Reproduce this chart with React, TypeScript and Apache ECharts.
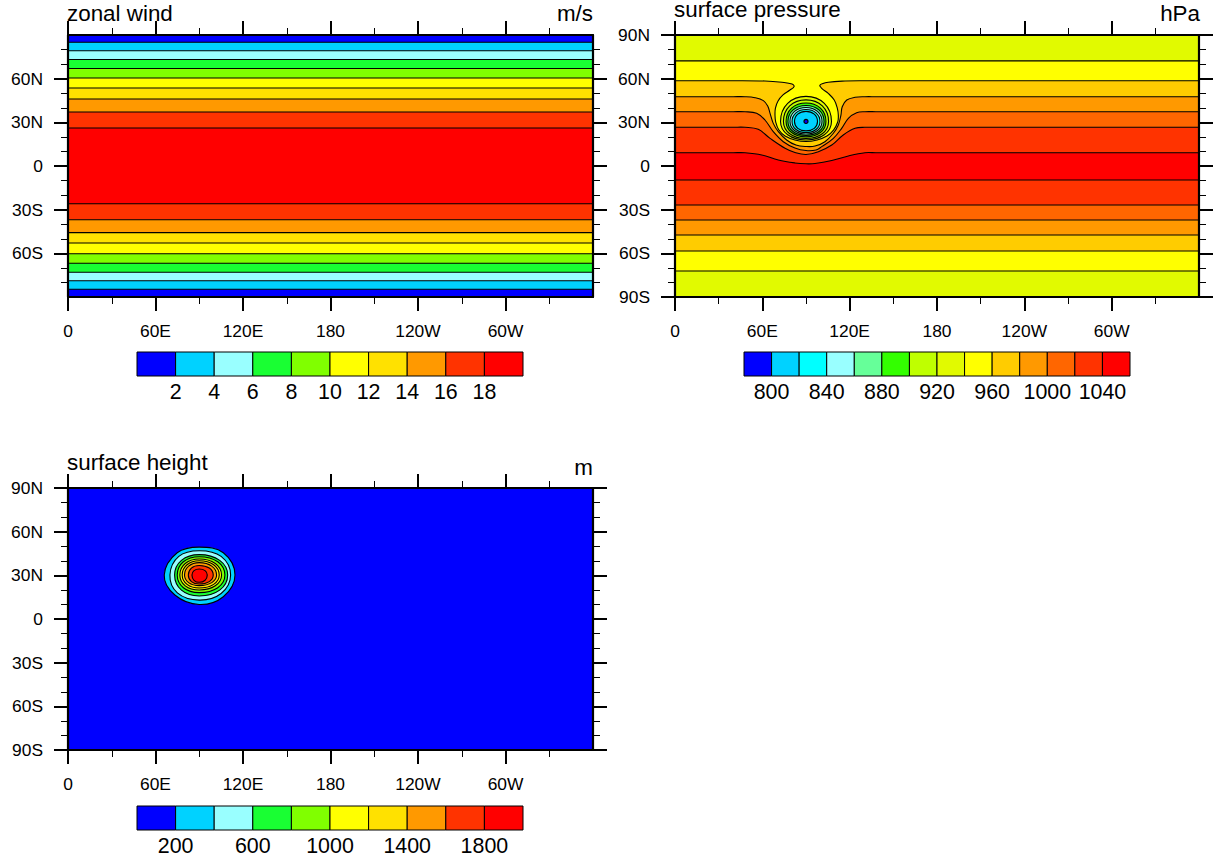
import React, { useEffect, useRef } from "react";
import * as echarts from "echarts";

type Pt = [number, number];
type Shape = { points: Pt[]; smooth: number; fill: string };

const FONT = "'Liberation Sans', Arimo, Helvetica, sans-serif";

// colour tables
const BLUE = "#0000ff";
const tenColors = ["#0000ff", "#00d2ff", "#99ffff", "#19ff33", "#80ff00", "#ffff00", "#ffe100", "#ff9900", "#ff3300", "#ff0000"];
const psColors = ["#0000ff", "#00d2ff", "#00ffff", "#99ffff", "#66ff99", "#33ff00", "#bfff00", "#e1fa00", "#ffff00", "#ffcc00", "#ff9900", "#ff6600", "#ff3300", "#ff0000"];

// axes
const lonTicks = [0, 60, 120, 180, 240, 300];
const lonNames = ["0", "60E", "120E", "180", "120W", "60W"];
const latTicksAll = [-90, -60, -30, 0, 30, 60, 90];
const latNamesAll = ["90S", "60S", "30S", "0", "30N", "60N", "90N"];
const latTicksInner = [-60, -30, 0, 30, 60];

// zonal wind: contour latitudes north to south, and the colour below each
const windLats = [85, 79.2, 73.2, 67, 60.5, 53.6, 46, 37.1, 26.1, -25.9, -36.9, -45.8, -52.9, -60.3, -66.8, -73, -78.8, -84.7];
const windFills = ["#00d2ff", "#99ffff", "#19ff33", "#80ff00", "#ffff00", "#ffe100", "#ff9900", "#ff3300", "#ff0000", "#ff3300", "#ff9900", "#ffe100", "#ffff00", "#80ff00", "#19ff33", "#99ffff", "#00d2ff", "#0000ff"];

// surface pressure contours
const ps960: Pt[] = [[0, 58.6], [30, 58.6], [37.8, 58.6], [61.8, 58.4], [73.5, 57.5], [80.4, 56.3], [81.8, 54.5], [79, 52.2], [74.2, 48.8], [70.8, 44.7], [69, 39.8], [68.7, 35], [69.2, 30.2], [71.4, 24.7], [75.6, 20.6], [82.4, 17.9], [90, 16.8], [97.6, 17.9], [104.4, 20.6], [108.9, 24.7], [111.8, 30.2], [112.2, 35], [111.5, 39.8], [109.4, 45.3], [105.3, 49.9], [100.8, 53.4], [99.6, 55.6], [105.3, 57.5], [116.8, 58.4], [130.5, 58.6], [140, 58.6], [360, 58.6]];
const ps980: Pt[] = [[0, 47.6], [40, 47.6], [48.1, 47.6], [55, 46.9], [60.7, 44.9], [63.7, 41.2], [65.3, 36.2], [67.5, 29.3], [71, 23.6], [76.7, 17.9], [83.1, 14.4], [90, 13.4], [96.2, 13.7], [103, 16.7], [108.8, 22.5], [112.2, 28.2], [114, 35], [114.9, 40.7], [118, 45.3], [123.7, 47.2], [130.5, 47.6], [138, 47.6], [360, 47.6]];
const ps1000: Pt[] = [[0, 37.3], [40, 37.3], [48.1, 37.3], [56.1, 36.2], [61.8, 31.6], [67.5, 23.6], [74.4, 16.7], [82.4, 12.4], [90, 10.6], [96.9, 11], [100.8, 13.3], [108.8, 19], [114.5, 25.9], [119.1, 32.8], [124.8, 36.6], [130.5, 37.3], [138, 37.3], [360, 37.3]];
const ps1020: Pt[] = [[0, 26.6], [40, 26.6], [48.1, 26.6], [57.2, 25.2], [65.3, 19], [75.6, 12.2], [82.4, 9.3], [90, 7.9], [98.5, 9.8], [107.7, 14.4], [115.6, 21.3], [123.7, 25.9], [130.5, 26.6], [138, 26.6], [360, 26.6]];
const ps1040: Pt[] = [[0, 9.1], [40, 9.1], [48.1, 9.1], [59.6, 7.6], [71, 4.1], [82.4, 2.1], [90, 1.5], [96.2, 1.7], [107.7, 3.8], [119.1, 6.9], [130.5, 9.1], [138, 9.1], [360, 9.1]];
const psCurves: Pt[][] = [ps960, ps980, ps1000, ps1020, ps1040];
const psCurveFills = ["#ffcc00", "#ff9900", "#ff6600", "#ff3300", "#ff0000"];
const psNorthLat = 72.2;
const psSouthLats = [-9.6, -26.8, -37.1, -47.4, -58.4, -72.1];
const psSouthFills = ["#ff3300", "#ff6600", "#ff9900", "#ffcc00", "#ffff00", "#e1fa00"];
const psRings: Pt[][] = [
  [[107.5, 30.6], [102.6, 43], [90, 47.8], [77.4, 43], [72.5, 30.6], [77.4, 21.5], [90, 17.9], [102.6, 21.5]],
  [[105.5, 30.6], [101.2, 41.3], [90, 45.4], [78.8, 41.3], [74.5, 30.6], [78.8, 22.2], [90, 18.9], [101.2, 22.2]],
  [[103.7, 30.6], [99.9, 39.7], [90, 43.3], [80.1, 39.7], [76.3, 30.6], [80.1, 23], [90, 20], [99.9, 23]],
  [[102.4, 30.6], [98.9, 38.5], [90, 41.6], [81.1, 38.5], [77.6, 30.6], [81.1, 23.7], [90, 21], [98.9, 23.7]],
  [[101, 30.6], [97.9, 37.5], [90, 40.2], [82.1, 37.5], [79, 30.6], [82.1, 24.4], [90, 22], [97.9, 24.4]],
  [[99.6, 30.6], [96.9, 36.5], [90, 38.8], [83.1, 36.5], [80.4, 30.6], [83.1, 25.1], [90, 23], [96.9, 25.1]],
  [[97.9, 30.6], [95.7, 35.6], [90, 37.5], [84.3, 35.6], [82.1, 30.6], [84.3, 25.9], [90, 24.1], [95.7, 25.9]],
  [[91.4, 30.6], [91, 31.6], [90, 32], [89, 31.6], [88.6, 30.6], [89, 29.6], [90, 29.2], [91, 29.6]],
];
const psRingFills = ["#e1fa00", "#bfff00", "#33ff00", "#66ff99", "#99ffff", "#00ffff", "#00d2ff", "#0000ff"];

// surface height contours, 200 m to 1800 m
const hgtRings: Pt[][] = [
  [[114.5, 30.2], [106.5, 45.5], [90, 49.4], [74.9, 45.5], [66, 30.2], [73.3, 16.5], [90, 10], [106.5, 15.3]],
  [[111.5, 30.2], [105, 43], [90, 46.9], [76, 43], [69.9, 30.2], [75, 18], [90, 13], [105, 17.5]],
  [[109.5, 30.2], [104, 40.3], [90, 44.2], [77.8, 40.3], [73.1, 30.2], [77.8, 19.8], [90, 15.8], [104, 19.8]],
  [[107.6, 30.2], [102.7, 39.3], [90, 42.8], [79.1, 39.3], [74.9, 30.2], [79.1, 21.5], [90, 18.1], [102.7, 21.5]],
  [[105.3, 30.2], [101, 38.1], [90, 41.2], [80.4, 38.1], [76.7, 30.2], [80.4, 22.8], [90, 19.9], [101, 22.8]],
  [[103.7, 30.2], [99.9, 37.3], [90, 40], [81.6, 37.3], [78.3, 30.2], [81.6, 23.8], [90, 21.3], [99.9, 23.8]],
  [[101.9, 30.2], [98.6, 36.3], [90, 38.7], [82.7, 36.3], [79.9, 30.2], [82.7, 25], [90, 22.9], [98.6, 25]],
  [[99.6, 30.2], [96.9, 35], [90, 36.8], [84.6, 35], [82.5, 30.2], [84.6, 25.7], [90, 24], [96.9, 25.7]],
  [[95.5, 30.2], [94, 33.2], [90, 34.3], [86.4, 33.2], [85, 30.2], [86.4, 26.6], [90, 25.2], [94, 26.6]],
];
const hgtRingFills = ["#00d2ff", "#99ffff", "#19ff33", "#80ff00", "#ffff00", "#ffe100", "#ff9900", "#ff3300", "#ff0000"];

// colour bars
const windBarLabels = [2, 4, 6, 8, 10, 12, 14, 16, 18];
const psBarLabels = [800, 840, 880, 920, 960, 1000, 1040];
const hgtBarLabels = [200, 600, 1000, 1400, 1800];

const straight = (lat: number, fill: string): Shape => ({
  points: [[-60, lat], [420, lat], [420, -130], [-60, -130]],
  smooth: 0,
  fill,
});
const curved = (c: Pt[], fill: string): Shape => {
  const a = c[0][1];
  const b = c[c.length - 1][1];
  return {
    points: [[-60, a], [-20, a], ...c, [380, b], [420, b], [420, -130], [-60, -130]],
    smooth: 0.38,
    fill,
  };
};
const ring = (c: Pt[], fill: string): Shape => ({ points: c, smooth: 0.38, fill });

const windShapes: Shape[] = [straight(130, BLUE), ...windLats.map((l, i) => straight(l, windFills[i]))];
const psShapes: Shape[] = [
  straight(130, "#e1fa00"),
  straight(psNorthLat, "#ffff00"),
  ...psCurves.map((c, i) => curved(c, psCurveFills[i])),
  ...psSouthLats.map((l, i) => straight(l, psSouthFills[i])),
  ...psRings.map((c, i) => ring(c, psRingFills[i])),
];
const hgtShapes: Shape[] = [straight(130, BLUE), ...hgtRings.map((c, i) => ring(c, hgtRingFills[i]))];

const contourSeries = (shapes: Shape[], idx: number) => ({
  type: "custom",
  xAxisIndex: idx,
  yAxisIndex: idx,
  clip: true,
  silent: true,
  data: shapes.map((_, i) => [i, 0]),
  renderItem: (params: any, api: any) => {
    const s = shapes[params.dataIndex];
    return {
      type: "polygon",
      shape: { points: s.points.map((p) => api.coord(p)), smooth: s.smooth },
      style: { fill: s.fill, stroke: "#000", lineWidth: 1.1 },
    };
  },
});

const barSeries = (colors: string[], min: number, step: number, idx: number) => ({
  type: "custom",
  xAxisIndex: idx,
  yAxisIndex: idx,
  silent: true,
  data: colors.map((_, i) => [min + step * i, 0]),
  renderItem: (params: any, api: any) => {
    const lo = min + step * params.dataIndex;
    const a = api.coord([lo, 1]);
    const b = api.coord([lo + step, 0]);
    return {
      type: "rect",
      shape: { x: a[0], y: a[1], width: b[0] - a[0], height: b[1] - a[1] },
      style: { fill: colors[params.dataIndex], stroke: "#000", lineWidth: 1 },
    };
  },
});

const stroke = (width: number) => ({ color: "#000", width });

const lonAxis = (grid: number, position: string, labels: boolean) => ({
  type: "value",
  gridIndex: grid,
  position,
  min: 0,
  max: 360,
  interval: 60,
  z: 5,
  splitLine: { show: false },
  axisLine: { show: true, onZero: false, lineStyle: stroke(2.2) },
  axisTick: { show: true, inside: false, length: 14, lineStyle: stroke(2), customValues: lonTicks },
  minorTick: { show: true, splitNumber: 2, length: 7, lineStyle: stroke(1) },
  axisLabel: {
    show: labels,
    customValues: lonTicks,
    margin: 25,
    fontFamily: FONT,
    fontSize: 17.4,
    color: "#000",
    formatter: (v: number) => lonNames[lonTicks.indexOf(v)] ?? "",
  },
});

const latAxis = (grid: number, position: string, labels: boolean, ticks: number[]) => ({
  type: "value",
  gridIndex: grid,
  position,
  min: -90,
  max: 90,
  interval: 30,
  z: 5,
  splitLine: { show: false },
  axisLine: { show: true, onZero: false, lineStyle: stroke(2.2) },
  axisTick: { show: true, inside: false, length: 14, lineStyle: stroke(2), customValues: ticks },
  minorTick: { show: true, splitNumber: 3, length: 7, lineStyle: stroke(1) },
  axisLabel: {
    show: labels,
    customValues: ticks,
    margin: 25,
    fontFamily: FONT,
    fontSize: 17.4,
    color: "#000",
    formatter: (v: number) => latNamesAll[latTicksAll.indexOf(v)] ?? "",
  },
});

const barX = (grid: number, min: number, max: number, interval: number, labels: number[]) => ({
  type: "value",
  gridIndex: grid,
  min,
  max,
  interval,
  position: "bottom",
  splitLine: { show: false },
  axisLine: { show: false },
  axisTick: { show: false },
  axisLabel: {
    show: true,
    customValues: labels,
    margin: 5,
    fontFamily: FONT,
    fontSize: 21.4,
    color: "#000",
    formatter: (v: number) => String(v),
  },
});
const barY = (grid: number) => ({ type: "value", gridIndex: grid, min: 0, max: 1, show: false });

const titleStyle = { fontFamily: FONT, fontSize: 22.4, fontWeight: "normal" as const, color: "#000" };
const title = (text: string, pos: Record<string, number>, lineHeight?: number) => ({
  text,
  padding: 0,
  textStyle: lineHeight ? { ...titleStyle, lineHeight } : titleStyle,
  ...pos,
});

export default function App() {
  const ref = useRef<HTMLDivElement>(null);
  useEffect(() => {
    const chart = echarts.init(ref.current!, undefined, { renderer: "svg" });
    chart.setOption({
      animation: false,
      backgroundColor: "#fff",
      title: [
        title("zonal wind", { left: 67, top: 2 }),
        title("m/s", { right: 624, top: 2 }),
        title("surface pressure", { left: 674, top: 0 }, 18),
        title("hPa", { right: 17, top: 2 }),
        title("surface height", { left: 67, top: 451 }),
        title("m", { right: 624, top: 456 }),
      ],
      grid: [
        { left: 68, top: 35, width: 525, height: 262 },
        { left: 675, top: 35, width: 524, height: 262 },
        { left: 68, top: 488, width: 525, height: 262 },
        { left: 137, top: 352, width: 386, height: 24 },
        { left: 744, top: 352, width: 386, height: 24 },
        { left: 137, top: 806, width: 386, height: 24 },
      ],
      xAxis: [
        lonAxis(0, "bottom", true),
        lonAxis(1, "bottom", true),
        lonAxis(2, "bottom", true),
        barX(3, 0, 20, 2, windBarLabels),
        barX(4, 780, 1060, 20, psBarLabels),
        barX(5, 0, 2000, 200, hgtBarLabels),
        lonAxis(0, "top", false),
        lonAxis(1, "top", false),
        lonAxis(2, "top", false),
      ],
      yAxis: [
        latAxis(0, "left", true, latTicksInner),
        latAxis(1, "left", true, latTicksAll),
        latAxis(2, "left", true, latTicksAll),
        barY(3),
        barY(4),
        barY(5),
        latAxis(0, "right", false, latTicksInner),
        latAxis(1, "right", false, latTicksAll),
        latAxis(2, "right", false, latTicksAll),
      ],
      series: [
        contourSeries(windShapes, 0),
        contourSeries(psShapes, 1),
        contourSeries(hgtShapes, 2),
        barSeries(tenColors, 0, 2, 3),
        barSeries(psColors, 780, 20, 4),
        barSeries(tenColors, 0, 200, 5),
      ],
    });
    return () => chart.dispose();
  }, []);
  return <div ref={ref} style={{ position: "absolute", left: 0, top: 0, width: 1217, height: 861 }} />;
}
